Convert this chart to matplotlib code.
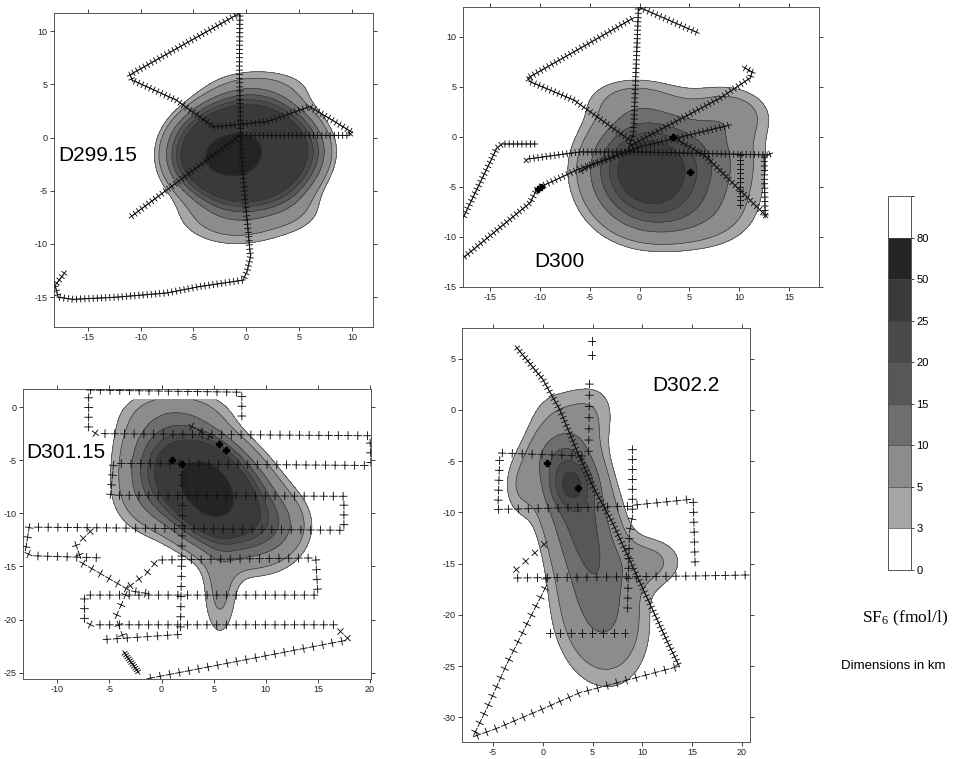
import numpy as np
import matplotlib
matplotlib.use("Agg")
import matplotlib.pyplot as plt
import matplotlib as mpl
from matplotlib import patheffects as pe
from matplotlib.colors import ListedColormap, BoundaryNorm

plt.rcParams['font.family'] = ['Liberation Sans', 'DejaVu Sans']
plt.rcParams['mathtext.fontset'] = 'stix'
plt.rcParams['axes.unicode_minus'] = False

# SF6 contour levels (fmol/l) and grey shades of the bands
levels = [3, 5, 10, 15, 20, 25, 50, 80]
band_colors = ['#a6a6a6', '#8c8c8c', '#6e6e6e', '#575757', '#4a4a4a', '#3a3a3a', '#242424']
cbar_bounds = [0, 3, 5, 10, 15, 20, 25, 50, 80, 100]
cbar_ticks = [0, 3, 5, 10, 15, 20, 25, 50, 80]

# ---- D299.15 ----
d299_xlim = (-18.2, 12.0)
d299_ylim = (-17.8, 11.7)
d299_blob_x = [0.0, -1.0, 1.2, -2.2, 4.5]
d299_blob_y = [-1.3, -7.0, 4.5, -1.8, -6.5]
d299_blob_amp = [45, 9, 6, 12, 3.5]
d299_blob_sx = [5.6, 3.5, 3.5, 2.8, 2.2]
d299_blob_sy = [4.0, 2.0, 1.4, 1.7, 1.6]
d299_blob_ang = [0, 0, 0, 15, 0]
d299_blob_p = [2, 1, 1, 1, 1]
d299_track_x = [[-17.1, -18.1, -17.8, -16.4, -12.3, -7.5, -4.4, -0.3, 0.1, 0.4, 0.2, -0.1, -0.5, -0.65, -0.6,
                 -11.0, -10.8, -6.6, -3.1, 2.0, 6.0, 8.2, 10.0, 9.7, -0.6, -11.0]]
d299_track_y = [[-12.6, -13.9, -15.0, -15.2, -15.0, -14.6, -14.0, -13.4, -12.5, -11.2, -9.0, -5.9, -1.2, 6.6, 11.7,
                 5.9, 5.4, 3.5, 1.0, 1.5, 2.9, 1.6, 0.5, 0.2, 0.2, -7.5]]
d299_station_x = []
d299_station_y = []

# ---- D300 ----
d300_xlim = (-17.7, 18.0)
d300_ylim = (-15.0, 13.0)
d300_blob_x = [0.8, 8.0, -1.0, 4.0, 9.5]
d300_blob_y = [-3.3, -2.5, 3.8, -8.0, 2.3]
d300_blob_amp = [35, 8, 4, 5, 4]
d300_blob_sx = [3.6, 3.2, 3.2, 4.0, 2.5]
d300_blob_sy = [3.4, 4.4, 1.6, 2.0, 1.6]
d300_blob_ang = [0, 0, 0, 0, 0]
d300_blob_p = [1, 1, 1, 1, 1]
d300_track_x = [[-17.7, -11.0, -10.2, -8.0, -6.3, 0.0],
                [-17.7, -14.3, -13.8, -10.3],
                [-11.5, -11.2, -6.0, 0.0, 13.1, 13.0],
                [-0.6, -11.2, -10.9, -6.6, -1.0],
                [-0.1, -0.6, -1.0],
                [-0.1, 5.9],
                [-1.0, 8.1, 11.1, 11.3, 10.4],
                [0.0, 9.1],
                [3.4, 6.7, 12.8],
                [10.1, 10.1],
                [12.5, 12.6],
                [-6.0, -5.0, 0.0]]
d300_track_y = [[-12.1, -6.6, -5.1, -4.1, -3.3, -1.0],
                [-8.1, -1.1, -0.7, -0.7],
                [-2.5, -2.2, -1.5, -1.5, -1.8, -1.5],
                [11.9, 5.9, 5.5, 3.7, -0.3],
                [13.0, 0.4, -0.9],
                [13.0, 10.4],
                [-0.9, 3.9, 5.9, 6.5, 7.0],
                [-1.0, 1.2],
                [0.0, -2.0, -8.0],
                [-1.6, -7.0],
                [-1.8, -8.0],
                [-3.5, -2.9, -1.0]]
d300_station_x = [-10.2, -9.9, 5.1, 3.4]
d300_station_y = [-5.2, -5.0, -3.5, 0.0]

# ---- D301.15 ----
d301_xlim = (-13.3, 20.1)
d301_ylim = (-25.6, 1.7)
d301_grid_top = 0.7
d301_blob_x = [4.4, 2.0, 11.5, 5.6, 4.5, -1.5]
d301_blob_y = [-7.7, -0.3, -11.0, -17.5, -7.7, -8.5]
d301_blob_amp = [60, 4, 5, 5.5, 10, 5]
d301_blob_sx = [4.2, 3.5, 2.0, 1.2, 1.5, 2.5]
d301_blob_sy = [2.6, 1.5, 2.0, 3.2, 2.5, 2.5]
d301_blob_ang = [-40, 0, 0, 0, 0, 0]
d301_blob_p = [1, 1, 1, 1, 1, 1]
d301_track_x = [[7.7, 7.7, -7.0, -7.0, -6.3, 20.0, 20.1, -4.6, -4.9, 17.5, 17.5, -12.7, -13.1, -12.4, -5.8],
                [-0.4, 14.8, 15.0, -7.4, -7.4, -6.8, 16.5, 18.0, -1.5],
                [-5.7, 1.8, 2.0, 2.0],
                [-3.6, -4.4, -3.1, -1.4, -0.4],
                [-6.5, -8.2, -7.6, -3.0, -1.1],
                [2.5, 5.0]]
d301_track_y = [[-1.3, 1.4, 1.6, -2.0, -2.5, -2.7, -5.5, -5.3, -8.3, -8.4, -11.6, -11.3, -13.7, -14.0, -14.2],
                [-14.4, -14.2, -17.7, -17.7, -20.2, -20.5, -20.5, -21.9, -25.6],
                [-21.9, -21.4, -10.6, -5.0],
                [-21.9, -19.8, -16.9, -15.6, -14.4],
                [-11.4, -13.0, -14.7, -17.3, -17.6],
                [-1.6, -3.0]]
d301_station_x = [1.0, 2.0, 5.5, 6.2]
d301_station_y = [-5.0, -5.4, -3.5, -4.0]
d301_dense_x = [-3.6, -2.2]
d301_dense_y = [-23.1, -25.0]

# ---- D302.2 ----
d302_xlim = (-8.1, 20.8)
d302_ylim = (-32.4, 8.0)
d302_blob_x = [3.6, 2.9, 5.8, 11.0, 4.8, -2.3, 1.5]
d302_blob_y = [-10.0, -7.2, -20.5, -14.8, -0.5, -7.5, -4.5]
d302_blob_amp = [17, 12, 8, 5, 4, 4, 4]
d302_blob_sx = [2.4, 1.5, 3.2, 2.4, 2.0, 1.3, 2.0]
d302_blob_sy = [6.0, 1.6, 4.5, 1.8, 2.6, 2.2, 1.5]
d302_blob_ang = [15, 0, 10, 0, -20, 0, 0]
d302_blob_p = [1, 1, 1, 1, 1, 1, 1]
d302_dense_x = [-2.7, 0.0, 1.7, 3.4, 5.0, 7.0, 8.7, 10.7, 12.4, 13.7]
d302_dense_y = [6.2, 3.0, 0.05, -3.9, -7.4, -11.0, -14.6, -18.8, -22.4, -25.0]
d302_track_x = [[13.7, 3.7, -0.3, -4.7, -7.0, -5.5, -3.7, -1.7, 0.35, 0.3],
                [-3.0, 15.4, 20.8],
                [-3.0, -1.3, 0.5],
                [4.4, -4.3, -4.5, 9.0],
                [4.9, 4.9],
                [4.7, 4.6],
                [9.0, 9.0, 8.7, 8.5],
                [9.0, 15.1, 15.3],
                [0.2, 8.7]]
d302_track_y = [[-25.0, -27.6, -29.3, -31.1, -31.9, -28.9, -25.0, -21.1, -17.2, -16.0],
                [-16.4, -16.2, -16.1],
                [-15.9, -14.4, -12.8],
                [-4.5, -4.2, -9.7, -9.4],
                [7.2, 4.9],
                [3.0, -4.5],
                [-3.4, -10.4, -12.0, -19.8],
                [-9.3, -8.7, -15.3],
                [-21.8, -21.8]]
d302_station_x = [0.4, 3.5]
d302_station_y = [-5.2, -7.6]


def plus_effects(spacing, arm):
    # plus-shaped station marks placed along the ship track by matplotlib
    return [pe.TickedStroke(spacing=spacing, angle=a, length=arm / spacing,
                            dashes={'dash_offset': 0, 'dash_list': None})
            for a in (0, 90, 180, 270)]


def conc_field(X, Y, bx, by, ba, bsx, bsy, bang, bp):
    Z = np.zeros_like(X)
    for x0, y0, a, sx, sy, ang, p in zip(bx, by, ba, bsx, bsy, bang, bp):
        t = np.radians(ang)
        u = (X - x0) * np.cos(t) + (Y - y0) * np.sin(t)
        v = -(X - x0) * np.sin(t) + (Y - y0) * np.cos(t)
        Z += a * np.exp(-0.5 * ((u / sx) ** 2 + (v / sy) ** 2) ** p)
    return Z


def setup_axes(ax, xlim, ylim):
    ax.set_xlim(xlim)
    ax.set_ylim(ylim)
    ax.set_xticks(np.arange(np.ceil(xlim[0] / 5) * 5, xlim[1] + 0.01, 5))
    ax.set_yticks(np.arange(np.ceil(ylim[0] / 5) * 5, ylim[1] + 0.01, 5))
    ax.xaxis.set_major_formatter(mpl.ticker.FormatStrFormatter('%d'))
    ax.yaxis.set_major_formatter(mpl.ticker.FormatStrFormatter('%d'))
    ax.tick_params(direction='out', length=3, width=0.6, labelsize=6.5, pad=1.5,
                   top=True, right=True, colors='#222222')
    for s in ax.spines.values():
        s.set_linewidth(0.7)
        s.set_color('#555555')


def draw_panel(ax, xlim, ylim, blobs, tracks, dense, stations, label, label_xy, ygrid_max=None):
    setup_axes(ax, xlim, ylim)
    gx = np.linspace(xlim[0], xlim[1], 400)
    gy = np.linspace(ylim[0], ylim[1], 400)
    X, Y = np.meshgrid(gx, gy)
    Z = conc_field(X, Y, *blobs)
    if ygrid_max is not None:
        Z = np.ma.masked_where(Y > ygrid_max, Z)
    ax.contourf(X, Y, Z, levels=levels, colors=band_colors, extend='neither')
    ax.contour(X, Y, Z, levels=levels, colors='#333333', linewidths=0.45)
    for tx, ty in zip(*tracks[:2]):
        ax.plot(tx, ty, color='#111111', lw=0.65, path_effects=plus_effects(*tracks[2]), zorder=3)
    for tx, ty in zip(*dense[:2]):
        ax.plot(tx, ty, color='#111111', lw=0.65, path_effects=plus_effects(*dense[2]), zorder=3)
    if len(stations[0]):
        ax.plot(stations[0], stations[1], 'P', color='k', ms=5, zorder=4)
    ax.text(label_xy[0], label_xy[1], label, transform=ax.transAxes, fontsize=15,
            ha='left', va='center', zorder=5)


fig = plt.figure(figsize=(9.59, 7.59), dpi=100)
W, H = 959.0, 759.0


def px_axes(l, t, r, b):
    return fig.add_axes([l / W, 1 - b / H, (r - l) / W, (b - t) / H])


ax1 = px_axes(54, 13, 373, 327)
ax2 = px_axes(463, 7, 819, 287)
ax3 = px_axes(23, 389, 371, 679)
ax4 = px_axes(462, 328, 750, 742)

draw_panel(ax1, d299_xlim, d299_ylim,
           (d299_blob_x, d299_blob_y, d299_blob_amp, d299_blob_sx, d299_blob_sy, d299_blob_ang, d299_blob_p),
           (d299_track_x, d299_track_y, (3.0, 2.2)), ([], [], (3.0, 2.2)),
           (d299_station_x, d299_station_y), 'D299.15', (0.012, 0.545))
draw_panel(ax2, d300_xlim, d300_ylim,
           (d300_blob_x, d300_blob_y, d300_blob_amp, d300_blob_sx, d300_blob_sy, d300_blob_ang, d300_blob_p),
           (d300_track_x, d300_track_y, (3.0, 2.2)), ([], [], (3.0, 2.2)),
           (d300_station_x, d300_station_y), 'D300', (0.2, 0.09))
draw_panel(ax3, d301_xlim, d301_ylim,
           (d301_blob_x, d301_blob_y, d301_blob_amp, d301_blob_sx, d301_blob_sy, d301_blob_ang, d301_blob_p),
           (d301_track_x, d301_track_y, (7.0, 2.8)), ([d301_dense_x], [d301_dense_y], (1.5, 2.2)),
           (d301_station_x, d301_station_y), 'D301.15', (0.01, 0.78), ygrid_max=d301_grid_top)
draw_panel(ax4, d302_xlim, d302_ylim,
           (d302_blob_x, d302_blob_y, d302_blob_amp, d302_blob_sx, d302_blob_sy, d302_blob_ang, d302_blob_p),
           (d302_track_x, d302_track_y, (7.0, 2.8)), ([d302_dense_x], [d302_dense_y], (3.0, 2.2)),
           (d302_station_x, d302_station_y), 'D302.2', (0.66, 0.86))

# colour key
cax = px_axes(888, 196, 911, 570)
cmap = ListedColormap(['white'] + band_colors + ['white'])
norm = BoundaryNorm(cbar_bounds, cmap.N)
cb = mpl.colorbar.ColorbarBase(cax, cmap=cmap, norm=norm, boundaries=cbar_bounds,
                               spacing='uniform', ticks=cbar_ticks, drawedges=True)
cb.outline.set_linewidth(0.7)
cb.outline.set_edgecolor('#555555')
cb.dividers.set_linewidth(0.5)
cb.dividers.set_color('#444444')
cax.tick_params(length=2, width=0.5, labelsize=8, pad=2)
cax.yaxis.set_major_formatter(mpl.ticker.FormatStrFormatter('%d'))

fig.text(905 / W, 1 - 618 / H, r'SF$_\mathregular{6}$ (fmol/l)', ha='center', va='center',
         fontsize=12.5, family=['Liberation Serif', 'DejaVu Serif'])
fig.text(893 / W, 1 - 666 / H, 'Dimensions in km', ha='center', va='center', fontsize=9.5)

fig.savefig('out.png', dpi=100)
